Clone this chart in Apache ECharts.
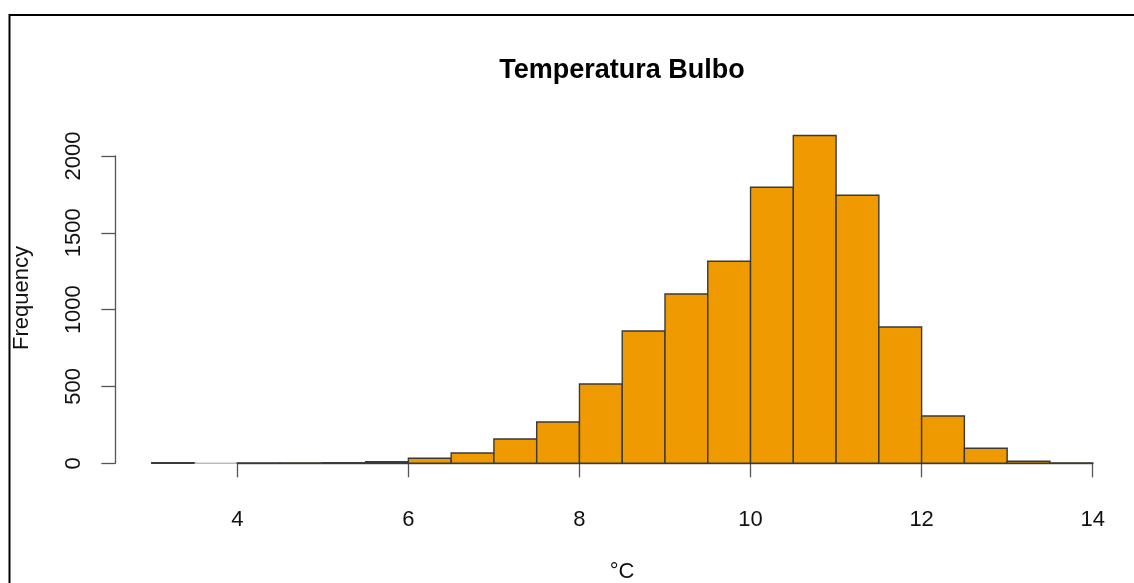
<!DOCTYPE html>
<html>
<head>
<meta charset="utf-8">
<script src="https://cdn.jsdelivr.net/npm/echarts@6/dist/echarts.min.js"></script>
<style>
  html, body { margin: 0; padding: 0; background: #fff; }
  #chart { width: 1134px; height: 583px; }
</style>
</head>
<body>
<div id="chart"></div>
<script>
// Histogram bins (°C), width 0.5
const binStarts = [3, 3.5, 4, 4.5, 5, 5.5, 6, 6.5, 7, 7.5, 8, 8.5, 9, 9.5, 10, 10.5, 11, 11.5, 12, 12.5, 13, 13.5];
const binWidth = 0.5;
// Counts per bin
const counts = [4, 0, 2, 3, 4, 10, 33, 67, 158, 269, 516, 861, 1102, 1315, 1797, 2133, 1745, 887, 308, 98, 13, 3];
// Axis ticks
const xTicks = [4, 6, 8, 10, 12, 14];
const yTicks = [0, 500, 1000, 1500, 2000];

const FONT = '"Liberation Sans", Arial, sans-serif';
const data = binStarts.map((s, i) => [s, s + binWidth, counts[i]]);

const chart = echarts.init(document.getElementById('chart'), null, { renderer: 'canvas' });
chart.setOption({
  animation: false,
  backgroundColor: '#ffffff',
  grid: { left: 237.3, right: 41.3, top: 156, bottom: 119.7, containLabel: false },
  xAxis: {
    type: 'value',
    min: xTicks[0], max: xTicks[xTicks.length - 1], interval: 2,
    offset: 13,
    splitLine: { show: false },
    axisLine: { show: true, lineStyle: { color: '#555', width: 1.3 } },
    axisTick: { show: true, length: 14, lineStyle: { color: '#555', width: 1.3 } },
    axisLabel: { margin: 33, fontSize: 22, color: '#111', fontFamily: FONT, formatter: v => String(v) }
  },
  yAxis: {
    type: 'value',
    min: yTicks[0], max: yTicks[yTicks.length - 1], interval: 500,
    offset: 122,
    splitLine: { show: false },
    axisLine: { show: true, lineStyle: { color: '#555', width: 1.3 } },
    axisTick: { show: true, length: 14, lineStyle: { color: '#555', width: 1.3 } },
    axisLabel: { rotate: 90, margin: 30, fontSize: 22, color: '#111', fontFamily: FONT, formatter: v => String(v) }
  },
  series: [{
    type: 'custom',
    clip: false,
    data: data,
    encode: { x: [0, 1], y: 2 },
    renderItem: function (params, api) {
      const x0 = api.value(0), x1 = api.value(1), c = api.value(2);
      const p0 = api.coord([x0, c]);
      const p1 = api.coord([x1, 0]);
      return {
        type: 'rect',
        shape: { x: p0[0], y: p0[1], width: p1[0] - p0[0], height: p1[1] - p0[1] },
        style: {
          fill: '#EE9A00',
          stroke: c === 0 ? '#bbbbbb' : '#3a3a3a',
          lineWidth: 1.4
        }
      };
    }
  }],
  graphic: [
    {
      type: 'rect', silent: true,
      shape: { x: 9.5, y: 15, width: 1200, height: 700 },
      style: { fill: 'none', stroke: '#000', lineWidth: 2 }
    },
    {
      type: 'text', x: 622, y: 71,
      style: { text: 'Temperatura Bulbo', font: 'bold 27px ' + FONT, fill: '#000', align: 'center', verticalAlign: 'middle' }
    },
    {
      type: 'text', x: 622, y: 572,
      style: { text: '°C', font: '22px ' + FONT, fill: '#111', align: 'center', verticalAlign: 'middle' }
    },
    {
      type: 'text', x: 22, y: 298, rotation: Math.PI / 2,
      style: { text: 'Frequency', font: '22px ' + FONT, fill: '#111', align: 'center', verticalAlign: 'middle' }
    }
  ]
});
</script>
</body>
</html>
